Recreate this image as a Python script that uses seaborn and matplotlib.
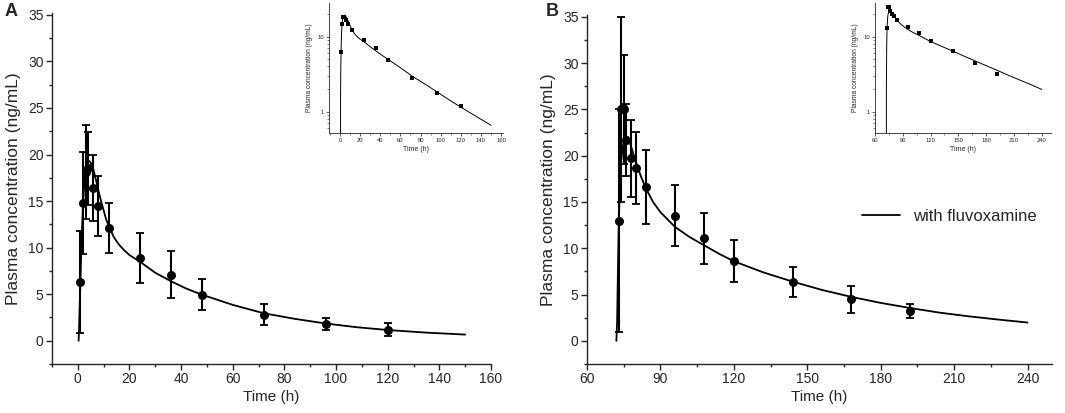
import numpy as np
import pandas as pd
import matplotlib
matplotlib.use("Agg")
import matplotlib.pyplot as plt
import seaborn as sns
from matplotlib.ticker import MultipleLocator, FixedLocator, LogLocator, NullFormatter

# ---------------- Panel A data (observed mean +/- SD) ----------------
time_a = [1, 2, 3, 4, 6, 8, 12, 24, 36, 48, 72, 96, 120]
mean_a = [6.3, 14.8, 18.1, 18.5, 16.4, 14.5, 12.1, 8.9, 7.1, 4.95, 2.8, 1.8, 1.2]
sd_a = [5.5, 5.5, 5.05, 3.9, 3.55, 3.2, 2.65, 2.7, 2.5, 1.65, 1.15, 0.65, 0.7]

# Panel A model curve
curve_t_a = [0.3, 0.5, 0.75, 1, 1.25, 1.5, 2, 2.5, 3, 3.5, 4, 4.5, 5, 6, 7, 8, 9, 10, 11, 12,
             14, 16, 18, 20, 24, 30, 36, 42, 48, 60, 72, 84, 96, 108, 120, 135, 150]
curve_c_a = [0.0, 1.5, 4.0, 6.3, 8.8, 11.0, 14.6, 16.8, 18.2, 18.9, 19.25, 19.3, 19.1, 18.4, 17.3,
             16.1, 15.0, 14.0, 13.0, 12.3, 11.1, 10.3, 9.7, 9.2, 8.5, 7.3, 6.4, 5.6, 4.95, 3.85,
             2.95, 2.35, 1.85, 1.45, 1.15, 0.87, 0.66]

# ---------------- Panel B data (observed mean +/- SD) ----------------
time_b = [73, 74, 75, 76, 78, 80, 84, 96, 108, 120, 144, 168, 192]
mean_b = [13.0, 25.0, 25.0, 21.7, 19.7, 18.7, 16.6, 13.5, 11.1, 8.6, 6.35, 4.5, 3.2]
sd_b = [12.0, 10.0, 5.9, 3.9, 4.2, 3.9, 4.0, 3.3, 2.75, 2.25, 1.65, 1.45, 0.75]

# Panel B model curve
curve_t_b = [72, 72.3, 72.6, 73, 73.5, 74, 74.5, 75, 76, 76.8, 78, 80, 82, 84, 87, 90, 96, 102,
             108, 114, 120, 132, 144, 156, 168, 180, 192, 204, 216, 228, 240]
curve_c_b = [0.0, 2.0, 7.0, 13.0, 17.0, 19.5, 20.8, 21.5, 21.9, 22.0, 21.0, 19.3, 17.8, 16.5,
             15.0, 13.9, 12.3, 11.2, 10.3, 9.4, 8.6, 7.4, 6.4, 5.5, 4.75, 4.1, 3.55, 3.05, 2.65,
             2.3, 1.98]

legend_label = "with fluvoxamine"
ylabel = "Plasma concentration (ng/mL)"
xlabel = "Time (h)"

sns.set_style("ticks")
plt.rcParams['font.family'] = ['Liberation Sans', 'DejaVu Sans']
plt.rcParams['axes.linewidth'] = 1.0
plt.rcParams['xtick.major.size'] = 4
plt.rcParams['ytick.major.size'] = 4
plt.rcParams['xtick.minor.size'] = 2.2
plt.rcParams['ytick.minor.size'] = 2.2
plt.rcParams['xtick.direction'] = 'out'
plt.rcParams['ytick.direction'] = 'out'

fig = plt.figure(figsize=(10.65, 4.13), dpi=100)

dfa_obs = pd.DataFrame({"t": time_a, "c": mean_a, "sd": sd_a})
dfa_fit = pd.DataFrame({"t": curve_t_a, "c": curve_c_a})
dfb_obs = pd.DataFrame({"t": time_b, "c": mean_b, "sd": sd_b})
dfb_fit = pd.DataFrame({"t": curve_t_b, "c": curve_c_b})


def main_panel(ax, obs, fit, xlim, xmaj, xmin, label=None):
    sns.lineplot(data=fit, x="t", y="c", ax=ax, color="black", lw=1.3, label=label,
                 legend=bool(label), zorder=2)
    ax.errorbar(obs["t"], obs["c"], yerr=obs["sd"], fmt="none", ecolor="black",
                elinewidth=1.5, capsize=3.2, capthick=1.3, zorder=3)
    sns.scatterplot(data=obs, x="t", y="c", ax=ax, color="black", s=42,
                    edgecolor="black", linewidth=0, zorder=4)
    ax.set_xlim(*xlim)
    ax.set_ylim(-2.5, 35.2)
    ax.xaxis.set_major_locator(FixedLocator(xmaj))
    ax.xaxis.set_minor_locator(FixedLocator(xmin))
    ax.yaxis.set_major_locator(MultipleLocator(5))
    ax.yaxis.set_minor_locator(MultipleLocator(2.5))
    ax.tick_params(axis="both", which="major", labelsize=10, pad=2, width=1.0)
    ax.tick_params(axis="both", which="minor", width=1.0)
    ax.set_xlabel(xlabel, fontsize=11, labelpad=3)
    ax.set_ylabel(ylabel, fontsize=12.5, labelpad=5)
    sns.despine(ax=ax)


def inset_panel(ax, obs, fit, xlim, xmaj, xmin):
    sns.lineplot(data=fit, x="t", y="c", ax=ax, color="black", lw=0.7, legend=False)
    sns.scatterplot(data=obs, x="t", y="c", ax=ax, color="black", s=5, marker="s",
                    edgecolor="black", linewidth=0)
    ax.set_yscale("log", nonpositive="clip")
    ax.set_xlim(*xlim)
    ax.set_ylim(0.52, 28)
    ax.xaxis.set_major_locator(FixedLocator(xmaj))
    ax.xaxis.set_minor_locator(FixedLocator(xmin))
    ax.yaxis.set_major_locator(FixedLocator([1, 10]))
    ax.yaxis.set_major_formatter(matplotlib.ticker.FixedFormatter(["1", "10"]))
    ax.yaxis.set_minor_locator(LogLocator(base=10, subs=np.arange(2, 10)))
    ax.yaxis.set_minor_formatter(NullFormatter())
    ax.tick_params(axis="both", which="major", labelsize=4.2, pad=1.5, width=0.5, length=2)
    ax.tick_params(axis="both", which="minor", width=0.4, length=1.2)
    for s in ax.spines.values():
        s.set_linewidth(0.6)
    ax.set_xlabel(xlabel, fontsize=5, labelpad=2)
    ax.set_ylabel(ylabel, fontsize=4.8, labelpad=3)
    sns.despine(ax=ax)


# Panel A
axA = fig.add_axes([52 / 1065, 49 / 413, 439 / 1065, 351 / 413])
main_panel(axA, dfa_obs, dfa_fit, (-10, 160), list(range(0, 161, 20)), list(range(-10, 161, 10)))

# Panel B
axB = fig.add_axes([587 / 1065, 49 / 413, 465 / 1065, 349 / 413])
main_panel(axB, dfb_obs, dfb_fit, (60, 250), list(range(60, 241, 30)), list(range(60, 251, 15)),
           label=legend_label)
axB.legend(loc="center left", bbox_to_anchor=(0.591, 0.424), frameon=False, fontsize=12,
           handlelength=2.3, handletextpad=0.8, borderpad=0, borderaxespad=0)

# Insets
insA = fig.add_axes([329 / 1065, (413 - 133) / 413, 174 / 1065, 130 / 413])
inset_panel(insA, dfa_obs, dfa_fit, (-11, 162), list(range(0, 161, 20)), list(range(-10, 161, 10)))

insB = fig.add_axes([875 / 1065, (413 - 133) / 413, 176 / 1065, 130 / 413])
inset_panel(insB, dfb_obs, dfb_fit, (60, 250), list(range(60, 241, 30)), list(range(60, 251, 15)))

fig.text(5 / 1065, 1 - 3 / 413, "A", fontsize=13, fontweight="bold", va="top", ha="left")
fig.text(546 / 1065, 1 - 3 / 413, "B", fontsize=13, fontweight="bold", va="top", ha="left")

fig.savefig("out.png", dpi=100)
